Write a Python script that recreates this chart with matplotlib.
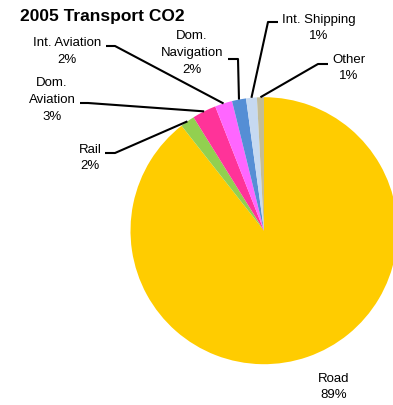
import numpy as np
import matplotlib.pyplot as plt

# data
categories = ["Road", "Rail", "Dom.\nAviation", "Int. Aviation", "Dom.\nNavigation",
              "Int. Shipping", "Other"]
shares = [89.4, 1.75, 2.9, 2.1, 1.7, 1.3, 0.85]
colors = ["#FFCC00", "#92D050", "#FF3399", "#FF66FF", "#558ED5", "#C6D9F1", "#C4BD97"]

W, H = 393, 406
plt.rcParams['font.family'] = ['Liberation Sans', 'DejaVu Sans']

fig = plt.figure(figsize=(W / 100, H / 100), dpi=100)
ax = fig.add_axes([0, 0, 1, 1])


def py(y):
    # pixel-from-top -> data y
    return H - y


cx, cy, r = 264, py(231.7), 133.5
wedges, _ = ax.pie(shares, colors=colors, startangle=90, counterclock=False,
                   center=(cx, cy), radius=r, wedgeprops=dict(linewidth=0))
ax.set_xlim(0, W)
ax.set_ylim(0, H)
ax.set_aspect('equal')
ax.axis('off')

total = sum(shares)
labels = [f"{c}\n{round(v / total * 100):.0f}%" for c, v in zip(categories, shares)]

# label centre (px from top), leader start, elbow  (None = no leader)
layout = [
    ((334, 387), None, None),
    ((90, 158), (105, 154), (115, 154)),
    ((52, 100), (80, 104), (88, 104)),
    ((67, 51.5), (106, 47), (115, 47)),
    ((192, 53), (228, 60), (238, 60)),
    ((319, 28), (278, 23), (268, 23)),
    ((349, 68), (328, 65), (318, 65)),
]

for w, lab, (pos, start, elbow) in zip(wedges, labels, layout):
    ax.text(pos[0], py(pos[1]), lab, ha='center', va='center', fontsize=9.5,
            linespacing=1.55)
    if start is None:
        continue
    mid = np.deg2rad((w.theta1 + w.theta2) / 2)
    ex, ey = cx + r * np.cos(mid), cy + r * np.sin(mid)
    ax.plot([start[0], elbow[0], ex], [py(start[1]), py(elbow[1]), ey],
            color='black', lw=1.5, solid_capstyle='butt')

ax.text(20, py(16), "2005 Transport CO2", ha='left', va='center',
        fontsize=12.5, fontweight='bold')

fig.savefig("out.png", dpi=100)
